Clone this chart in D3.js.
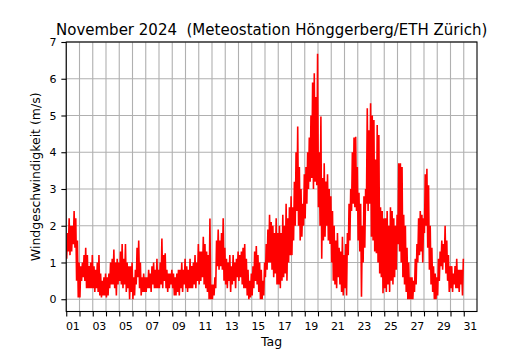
<!DOCTYPE html>
<html>
<head>
<meta charset="utf-8">
<script src="https://cdn.jsdelivr.net/npm/d3@7"></script>
<style>
  body { margin: 0; background: #fff; }
  text { font-family: "DejaVu Sans", sans-serif; }
</style>
</head>
<body>
<div id="chart"></div>
<script>
// wind speed (m/s), Nov 2024, per day: 8 three-hour blocks, low and high
const windLow = [
    [1.1, 1.3, 1.2, 1.3, 1.5, 1.4, 0.5, 0.05],   // 01
    [0.05, 0.5, 0.6, 0.5, 0.3, 0.3, 0.3, 0.3],
    [0.3, 0.2, 0.3, 0.2, 0.1, 0.05, 0.1, 0.1],
    [0.05, 0.1, 0.3, 0.4, 0.4, 0.3, 0.1, 0.4],
    [0.5, 0.4, 0.3, 0.4, 0.2, 0.3, 0.0, 0.2],    // 05
    [0.0, 0.1, 0.4, 0.6, 0.3, 0.1, 0.2, 0.2],
    [0.2, 0.3, 0.3, 0.2, 0.4, 0.3, 0.3, 0.3],
    [0.3, 0.4, 0.3, 0.5, 0.3, 0.2, 0.3, 0.4],
    [0.3, 0.1, 0.1, 0.2, 0.1, 0.3, 0.2, 0.4],
    [0.3, 0.2, 0.3, 0.3, 0.3, 0.4, 0.3, 0.5],    // 10
    [0.4, 0.5, 0.6, 0.4, 0.3, 0.2, 0.0, 0.0],
    [0.0, 0.1, 0.3, 0.9, 0.8, 0.9, 0.8, 0.5],
    [0.4, 0.3, 0.5, 0.2, 0.4, 0.5, 0.3, 0.6],
    [0.5, 0.6, 0.4, 0.3, 0.3, 0.1, 0.0, 0.05],
    [0.1, 0.3, 0.5, 0.4, 0.2, 0.0, 0.0, 0.1],    // 15
    [0.6, 0.8, 1.0, 1.0, 0.8, 0.6, 0.7, 0.4],
    [0.4, 0.3, 0.5, 0.6, 0.7, 0.5, 1.0, 1.2],
    [1.2, 1.6, 2.0, 2.4, 2.0, 1.6, 1.7, 2.0],
    [2.2, 2.6, 3.0, 3.2, 3.3, 3.0, 3.2, 3.1],
    [2.5, 2.0, 1.1, 1.6, 1.7, 2.0, 1.6, 1.5],    // 20
    [1.0, 0.5, 0.4, 0.3, 0.6, 0.4, 0.2, 0.1],
    [0.3, 0.1, 1.2, 1.6, 2.4, 2.6, 2.5, 2.4],
    [1.6, 1.3, 0.07, 1.0, 1.4, 2.6, 2.4, 2.6],
    [1.7, 1.6, 1.3, 1.25, 1.0, 0.7, 0.6, 0.16],
    [0.3, 0.2, 0.4, 0.2, 0.5, 0.4, 0.6, 0.8],    // 25
    [1.5, 1.3, 1.0, 0.6, 0.4, 0.2, 0.0, 0.0],
    [0.0, 0.0, 0.2, 0.4, 1.0, 1.2, 1.3, 1.0],
    [1.8, 2.0, 1.4, 0.8, 0.4, 0.2, 0.0, 0.0],
    [0.1, 0.5, 0.9, 0.8, 1.0, 0.7, 0.5, 0.2],
    [0.3, 0.2, 0.4, 0.3, 0.3, 0.2, 0.4, 0.1]     // 30
]
const windHigh = [
    [1.8, 2.2, 2.0, 2.0, 2.4, 2.2, 1.6, 1.0],    // 01
    [0.9, 1.0, 1.2, 1.4, 1.2, 0.9, 1.0, 1.2],
    [0.9, 0.8, 1.0, 1.2, 0.7, 0.5, 0.6, 0.7],
    [0.6, 0.7, 1.0, 1.1, 1.35, 1.0, 1.1, 1.0],
    [1.3, 1.5, 1.1, 1.5, 1.0, 0.9, 0.9, 1.0],    // 05
    [0.6, 0.8, 1.4, 1.6, 1.0, 0.6, 0.7, 0.6],
    [0.6, 0.8, 0.7, 0.9, 1.0, 0.8, 1.1, 0.8],
    [1.0, 1.65, 1.2, 1.25, 0.8, 0.7, 0.7, 0.8],
    [0.7, 0.6, 0.7, 0.8, 0.8, 1.0, 0.8, 1.1],
    [0.9, 0.8, 1.1, 0.9, 1.0, 1.2, 1.0, 1.5],    // 10
    [1.3, 1.3, 1.7, 1.5, 1.3, 1.2, 2.2, 0.4],
    [0.4, 0.6, 1.6, 1.9, 1.6, 1.8, 2.2, 1.4],
    [1.1, 1.0, 1.2, 0.9, 1.2, 1.0, 1.1, 1.3],
    [1.2, 1.3, 1.4, 1.5, 1.1, 0.8, 0.5, 0.7],
    [0.9, 1.3, 1.45, 1.2, 1.0, 0.8, 0.5, 1.0],   // 15
    [1.5, 1.9, 2.3, 2.1, 2.0, 1.8, 2.2, 1.8],
    [2.0, 1.8, 2.3, 2.0, 2.6, 2.2, 2.5, 2.8],
    [2.5, 3.2, 4.0, 4.7, 3.6, 3.0, 2.6, 3.4],
    [3.6, 4.0, 4.4, 5.0, 5.9, 6.15, 5.5, 6.68],
    [4.0, 4.97, 3.3, 3.7, 3.2, 3.4, 3.0, 2.8],   // 20
    [2.4, 2.0, 1.6, 1.8, 1.4, 1.3, 1.7, 1.2],
    [1.5, 1.8, 2.6, 3.0, 4.0, 4.4, 4.42, 3.6],
    [2.9, 2.6, 2.0, 2.8, 3.0, 5.2, 4.6, 5.33],
    [5.0, 4.88, 3.8, 4.74, 4.47, 2.5, 2.4, 2.2],
    [2.2, 2.4, 2.0, 2.5, 2.4, 2.2, 2.0, 2.3],    // 25
    [3.7, 3.7, 3.6, 2.3, 2.0, 1.4, 1.0, 0.6],
    [0.6, 0.5, 1.1, 1.5, 2.2, 2.4, 2.3, 2.2],
    [3.4, 3.55, 3.1, 2.0, 1.4, 0.9, 0.7, 0.6],
    [1.1, 1.3, 1.6, 1.5, 2.0, 1.6, 1.2, 0.9],
    [0.9, 0.7, 0.9, 1.1, 0.8, 0.8, 0.8, 1.1]     // 30
]
const dayTicks = d3.range(1, 32)
const dayLabels = ['01', '03', '05', '07', '09', '11', '13', '15', '17', '19', '21', '23', '25', '27', '29', '31']
const speedTicks = [0, 1, 2, 3, 4, 5, 6, 7]

const w = 530
const h = 350
const margin = { top: 42, right: 53, bottom: 38.5, left: 66.25 }

const svg = d3.select('#chart').append('svg').attr('width', w).attr('height', h)

const x = d3.scaleLinear().domain([1, 32]).range([margin.left, w - margin.right])
const y = d3.scaleLinear().domain([-0.334, 7]).range([h - margin.bottom, margin.top])

// grid
svg.append('g').selectAll('line')
    .data(dayTicks).enter().append('line')
    .attr('x1', d => x(d)).attr('x2', d => x(d))
    .attr('y1', margin.top).attr('y2', h - margin.bottom)
    .attr('stroke', '#b0b0b0').attr('stroke-width', 1.1)
svg.append('g').selectAll('line')
    .data(speedTicks).enter().append('line')
    .attr('x1', margin.left).attr('x2', w - margin.right)
    .attr('y1', d => y(d)).attr('y2', d => y(d))
    .attr('stroke', '#b0b0b0').attr('stroke-width', 1.1)

// series: low then high value inside each 3 h block
const series = []
windLow.forEach((lows, i) => {
    lows.forEach((lo, b) => {
        series.push({ t: i + 1 + (b * 3 + 0.75) / 24, v: lo })
        series.push({ t: i + 1 + (b * 3 + 2.25) / 24, v: windHigh[i][b] })
    })
})

svg.append('clipPath').attr('id', 'plot-clip').append('rect')
    .attr('x', margin.left).attr('y', margin.top)
    .attr('width', w - margin.left - margin.right)
    .attr('height', h - margin.top - margin.bottom)

const line = d3.line().x(d => x(d.t)).y(d => y(d.v))
svg.append('path')
    .datum(series)
    .attr('clip-path', 'url(#plot-clip)')
    .attr('d', line)
    .attr('fill', 'none')
    .attr('stroke', '#ff0000')
    .attr('stroke-width', 1.6)
    .attr('stroke-linejoin', 'miter')

// axes
const xAxis = svg.append('g')
    .attr('transform', `translate(0,${h - margin.bottom})`)
    .call(d3.axisBottom(x).tickValues(dayTicks).tickSize(4.9).tickFormat(''))
xAxis.select('.domain').remove()
xAxis.selectAll('line').attr('stroke', '#000').attr('stroke-width', 1.1)

svg.append('g').selectAll('text')
    .data(dayLabels).enter().append('text')
    .attr('x', d => x(+d + 0.5))
    .attr('y', h - margin.bottom + 18.2)
    .attr('text-anchor', 'middle')
    .attr('font-size', '11px')
    .attr('fill', '#000')
    .text(d => d)

const yAxis = svg.append('g')
    .attr('transform', `translate(${margin.left},0)`)
    .call(d3.axisLeft(y).tickValues(speedTicks).tickSize(4.9).tickPadding(4.9).tickFormat(d3.format('d')))
yAxis.select('.domain').remove()
yAxis.selectAll('line').attr('stroke', '#000').attr('stroke-width', 1.1)
yAxis.selectAll('text')
    .attr('font-family', '"DejaVu Sans", sans-serif')
    .attr('font-size', '11px')
    .attr('fill', '#000')

svg.append('rect')
    .attr('x', margin.left).attr('y', margin.top)
    .attr('width', w - margin.left - margin.right)
    .attr('height', h - margin.top - margin.bottom)
    .attr('fill', 'none').attr('stroke', '#000').attr('stroke-width', 1.1)

// labels
svg.append('text')
    .attr('x', (margin.left + w - margin.right) / 2)
    .attr('y', 34.5)
    .attr('text-anchor', 'middle')
    .attr('font-size', '15px')
    .style('white-space', 'pre')
    .text('November 2024  (Meteostation Hönggerberg/ETH Zürich)')

svg.append('text')
    .attr('x', (margin.left + w - margin.right) / 2)
    .attr('y', 345.5)
    .attr('text-anchor', 'middle')
    .attr('font-size', '12.5px')
    .text('Tag')

svg.append('text')
    .attr('transform', `translate(39.5,${(margin.top + h - margin.bottom) / 2}) rotate(-90)`)
    .attr('text-anchor', 'middle')
    .attr('font-size', '12.5px')
    .text('Windgeschwindigkeit (m/s)')
</script>
</body>
</html>
